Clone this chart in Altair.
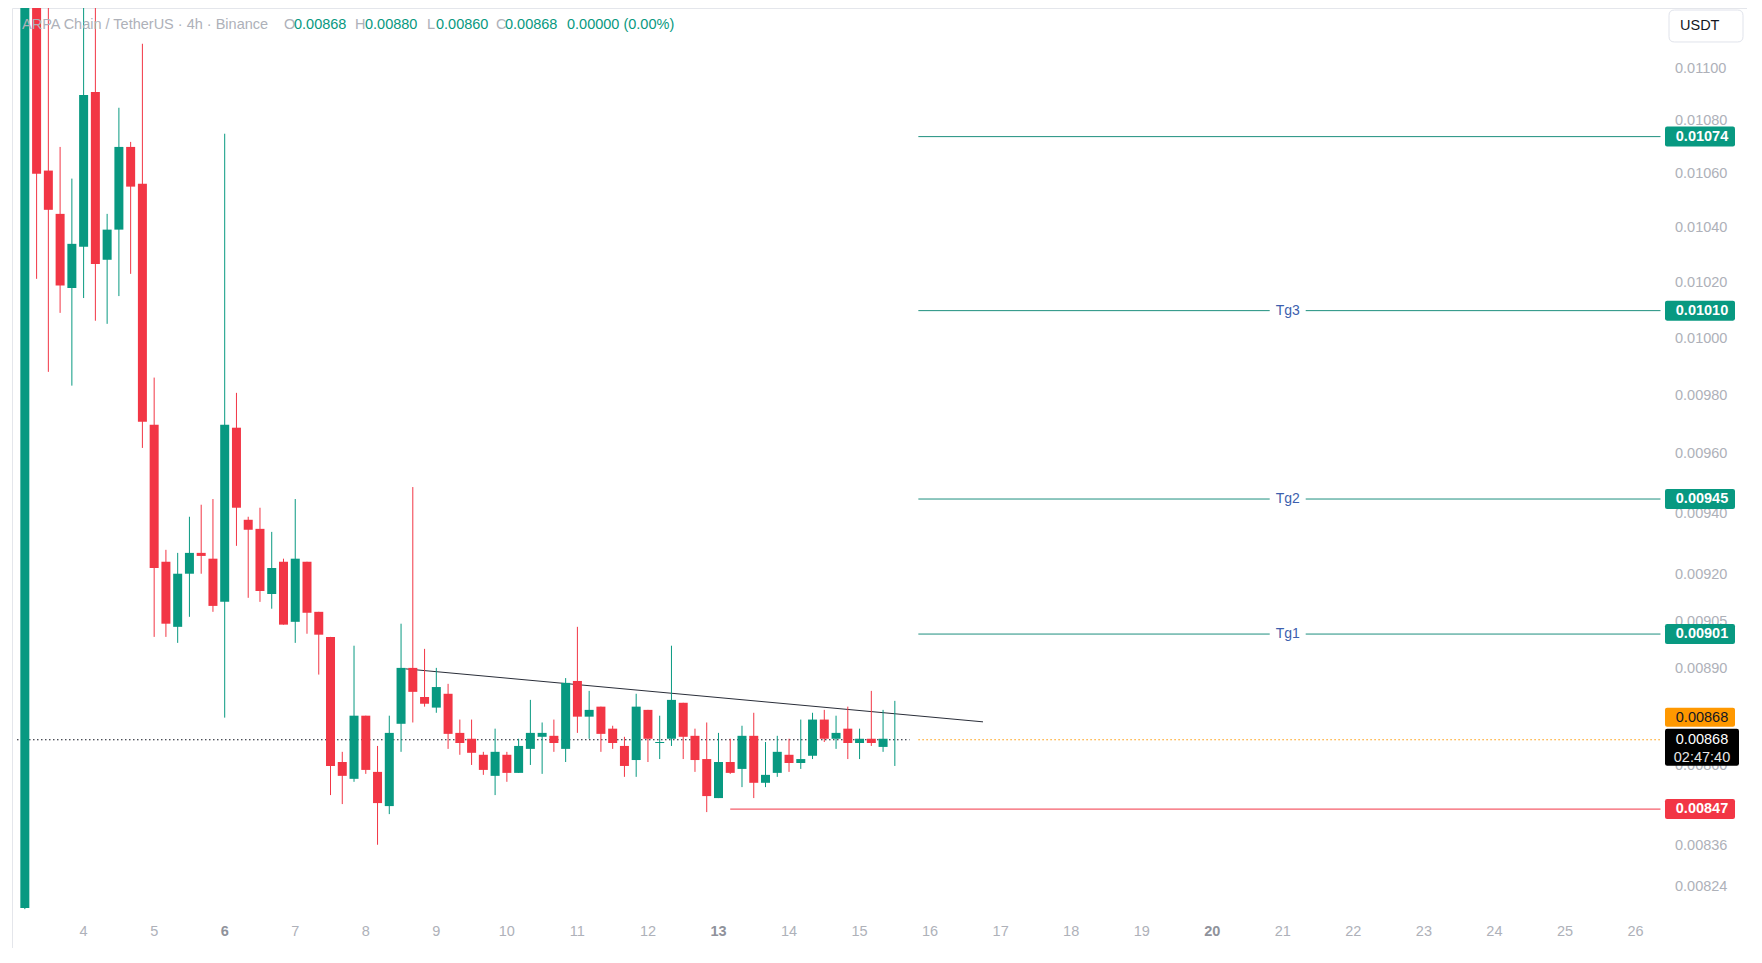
import altair as alt
import pandas as pd

FONT = "Liberation Sans"
GREEN = "#089981"
RED = "#f23645"
ORANGE = "#ff9800"
TEAL_LINE = "#1e8f7e"
BLUE_TXT = "#3d5fae"
GREY_TXT = "#aeb1b9"

# ---------------- candle data (4h candles) ----------------
first_candle = "2025-06-03 04:00"
opens = [0.008179, 0.01140, 0.010612, 0.010451, 0.010181, 0.010330, 0.010911, 0.010283, 0.010393, 0.010701,
         0.010563, 0.009701, 0.009243, 0.009033, 0.009204, 0.009272, 0.009253, 0.009113, 0.009691, 0.009381,
         0.009351, 0.009138, 0.009243, 0.009049, 0.009243, 0.009081, 0.009001, 0.008612, 0.008561, 0.008754,
         0.008582, 0.008479, 0.008729, 0.008903, 0.008812, 0.008779, 0.008822, 0.008701, 0.008683, 0.008634,
         0.008570, 0.008634, 0.008579, 0.008652, 0.008689, 0.008692, 0.008652, 0.008862, 0.008751, 0.008782,
         0.008714, 0.008661, 0.008618, 0.008772, 0.008670, 0.008683, 0.008794, 0.008692, 0.008621, 0.008503,
         0.008612, 0.008591, 0.008692, 0.008549, 0.008579, 0.008634, 0.008609, 0.008631, 0.008742, 0.008683,
         0.008714, 0.008670, 0.008683, 0.008658, 0.00868]
highs = [0.01150, 0.01160, 0.011271, 0.010701, 0.010582, 0.011271, 0.011271, 0.010451, 0.010850, 0.010720,
         0.011098, 0.009864, 0.009282, 0.009272, 0.009391, 0.009431, 0.009450, 0.010751, 0.009811, 0.009391,
         0.009421, 0.009341, 0.009253, 0.009450, 0.009243, 0.009081, 0.009001, 0.008643, 0.008973, 0.008754,
         0.008661, 0.008754, 0.009043, 0.009490, 0.008963, 0.008903, 0.008853, 0.008742, 0.008742, 0.008643,
         0.008714, 0.008643, 0.008683, 0.008803, 0.008733, 0.008742, 0.008871, 0.009033, 0.008831, 0.008782,
         0.008723, 0.008689, 0.008822, 0.008772, 0.008754, 0.008973, 0.008794, 0.008714, 0.008733, 0.008701,
         0.008683, 0.008723, 0.008763, 0.008673, 0.008692, 0.008683, 0.008742, 0.008763, 0.008772, 0.008754,
         0.008782, 0.008714, 0.008831, 0.008772, 0.00880]
lows = [0.008176, 0.010214, 0.009884, 0.010092, 0.009836, 0.010145, 0.010064, 0.010053, 0.010152, 0.010232,
        0.009622, 0.009001, 0.009001, 0.008982, 0.009065, 0.009204, 0.009081, 0.008748, 0.009295, 0.009126,
        0.009113, 0.009091, 0.009040, 0.008982, 0.009011, 0.008882, 0.008512, 0.008485, 0.008552, 0.008576,
        0.008364, 0.008455, 0.008643, 0.008733, 0.008782, 0.008763, 0.008652, 0.008634, 0.008603, 0.008573,
        0.008512, 0.008552, 0.008579, 0.008603, 0.008576, 0.008643, 0.008612, 0.008701, 0.008683, 0.008643,
        0.008652, 0.008567, 0.008567, 0.008612, 0.008621, 0.008661, 0.008621, 0.008582, 0.008461, 0.008503,
        0.008576, 0.008536, 0.008503, 0.008536, 0.008567, 0.008582, 0.008591, 0.008621, 0.008673, 0.008652,
        0.008621, 0.008621, 0.008661, 0.008643, 0.00860]
closes = [0.01140, 0.010600, 0.010466, 0.010190, 0.010341, 0.010899, 0.010268, 0.010393, 0.010701, 0.010552,
          0.009711, 0.009223, 0.009043, 0.009204, 0.009272, 0.009262, 0.009100, 0.009701, 0.009421, 0.009348,
          0.009148, 0.009223, 0.009040, 0.009253, 0.009078, 0.009008, 0.008600, 0.008570, 0.008754, 0.008588,
          0.008488, 0.008701, 0.008903, 0.008828, 0.008791, 0.008843, 0.008698, 0.008670, 0.008640, 0.008588,
          0.008643, 0.008579, 0.008661, 0.008701, 0.008701, 0.008670, 0.008856, 0.008751, 0.008772, 0.008698,
          0.008670, 0.008600, 0.008782, 0.008683, 0.008673, 0.008803, 0.008689, 0.008618, 0.008509, 0.008612,
          0.008579, 0.008692, 0.008549, 0.008573, 0.008643, 0.008609, 0.008621, 0.008742, 0.008683, 0.008701,
          0.008670, 0.008683, 0.008670, 0.008683, 0.00868]

# ---------------- annotations ----------------
level_prices = [0.01074, 0.01010, 0.00945, 0.00901]
level_names = ["", "Tg3", "Tg2", "Tg1"]
level_start = "2025-06-15 20:00"
line_end = "2025-06-26 08:30"
label_time = "2025-06-21 01:40"
support_price = 0.00847
support_start = "2025-06-13 04:00"
last_price = 0.00868
last_line_end = "2025-06-15 17:00"
trend_times = ["2025-06-08 13:30", "2025-06-16 18:00"]
trend_prices = [0.008900, 0.008735]
countdown = "02:47:40"

day_ticks = list(range(4, 27))
bold_days = [6, 13, 20]
price_ticks = [0.01100, 0.01080, 0.01060, 0.01040, 0.01020, 0.01000, 0.00980, 0.00960, 0.00940,
               0.00920, 0.00905, 0.00890, 0.00860, 0.00836, 0.00824]
y_domain = [0.0080646, 0.011239]

title_texts = ["ARPA Chain / TetherUS · 4h · Binance", "O", "0.00868", "H", "0.00880",
               "L", "0.00860", "C", "0.00868", "0.00000 (0.00%)"]
title_colors = ["#aeb1b9", "#aeb1b9", GREEN, "#aeb1b9", GREEN, "#aeb1b9", GREEN, "#aeb1b9", GREEN, GREEN]
title_x = [10, 272, 282, 343, 353, 415, 424, 484, 493, 555]


def rounded_box(top, bottom, r):
    """SVG path (unit symbol space, x from -1 to 1) for a box with rounded corners."""
    return (f"M{-1 + r},{top}H{1 - r}Q1,{top} 1,{top + r}V{bottom - r}Q1,{bottom} {1 - r},{bottom}"
            f"H{-1 + r}Q-1,{bottom} -1,{bottom - r}V{top + r}Q-1,{top} {-1 + r},{top}Z")


# ---------------- frames ----------------
candles = pd.DataFrame({
    "t": pd.date_range(first_candle, periods=len(opens), freq="4h"),
    "open": opens, "high": highs, "low": lows, "close": closes,
})
levels = pd.DataFrame({
    "price": level_prices, "name": level_names,
    "start": pd.to_datetime([level_start] * 4), "end": pd.to_datetime([line_end] * 4),
    "lt": pd.to_datetime([label_time] * 4),
})
tg_labels = levels[levels["name"] != ""]
support = pd.DataFrame({"price": [support_price], "start": pd.to_datetime([support_start]),
                        "end": pd.to_datetime([line_end])})
lastline = pd.DataFrame({"price": [last_price], "start": pd.to_datetime(["2025-06-03 01:20"]),
                         "end": pd.to_datetime([last_line_end])})
orangeline = pd.DataFrame({"price": [last_price], "start": pd.to_datetime([level_start]),
                           "end": pd.to_datetime([line_end])})
trend = pd.DataFrame({"t": pd.to_datetime(trend_times), "price": trend_prices})
tags = pd.DataFrame({
    "price": level_prices + [support_price],
    "label": [f"{p:.5f}" for p in level_prices + [support_price]],
    "fill": [GREEN] * 4 + [RED],
})
last_df = pd.DataFrame({"price": [last_price], "label": [f"{last_price:.5f}"], "cd": [countdown]})
title_df = pd.DataFrame({"text": title_texts, "color": title_colors, "px": title_x})
ylab_df = pd.DataFrame({"price": price_ticks, "label": [f"{p:.5f}" for p in price_ticks]})
xlab_df = pd.DataFrame({
    "t": pd.to_datetime([f"2025-06-{d:02d}" for d in day_ticks]),
    "label": [str(d) for d in day_ticks],
    "bold": [d in bold_days for d in day_ticks],
})
one = pd.DataFrame({"a": [0]})

# ---------------- scales ----------------
xscale = alt.Scale(domain=[alt.DateTime(year=2025, month=6, date=3, hours=1, minutes=20),
                           alt.DateTime(year=2025, month=6, date=27, hours=12, minutes=14)])
yscale = alt.Scale(type="log", domain=y_domain, nice=False)

X = lambda f: alt.X(f, scale=xscale, axis=None)
Y = lambda f: alt.Y(f, scale=yscale, axis=None)

# axis labels (price scale on the right, time scale at the bottom)
ylabels = alt.Chart(ylab_df).mark_text(
    font=FONT, fontSize=14.5, color=GREY_TXT, align="left", baseline="middle"
).encode(x=alt.value(1663), y=Y("price:Q"), text="label:N")
xlabels_n = alt.Chart(xlab_df).transform_filter("!datum.bold").mark_text(
    font=FONT, fontSize=14.5, color=GREY_TXT, align="center", baseline="middle"
).encode(x=X("t:T"), y=alt.value(924), text="label:N")
xlabels_b = alt.Chart(xlab_df).transform_filter("datum.bold").mark_text(
    font=FONT, fontSize=14.5, fontWeight="bold", color="#8f929b", align="center", baseline="middle"
).encode(x=X("t:T"), y=alt.value(924), text="label:N")

up = "datum.open <= datum.close"
base = alt.Chart(candles).encode(
    x=X("t:T"),
    color=alt.condition(up, alt.value(GREEN), alt.value(RED)),
)
wicks = base.mark_rule(strokeWidth=1, clip=True).encode(y=Y("low:Q"), y2="high:Q")
bodies = base.mark_bar(size=9, clip=True).encode(y=Y("open:Q"), y2="close:Q")


def hline(df, color, dash=None, width=1.0):
    kw = dict(color=color, strokeWidth=width)
    if dash:
        kw["strokeDash"] = dash
    return alt.Chart(df).mark_rule(**kw).encode(x=X("start:T"), x2="end:T", y=Y("price:Q"))


level_lines = hline(levels, TEAL_LINE)
support_line = hline(support, RED)
last_line = hline(lastline, "#131722", dash=[1.5, 2.5], width=1.2)
orange_line = hline(orangeline, ORANGE, dash=[1.5, 2.5], width=1.2)

trend_line = alt.Chart(trend).mark_line(color="#2a2e39", strokeWidth=1).encode(
    x=X("t:T"), y=Y("price:Q"))

tg_back = alt.Chart(tg_labels).mark_point(
    shape="M-1,-0.5H1V0.5H-1Z", size=1296, filled=True, opacity=1, color="white", strokeWidth=0
).encode(x=X("lt:T"), y=Y("price:Q"))
tg_text = alt.Chart(tg_labels).mark_text(
    font=FONT, fontSize=14, color=BLUE_TXT, baseline="middle", align="center"
).encode(x=X("lt:T"), y=Y("price:Q"), text="name:N")

TAG_X = 1688
tag_boxes = alt.Chart(tags).mark_point(
    shape=rounded_box(-0.2857, 0.2857, 0.06), size=4900, filled=True, opacity=1, strokeWidth=0
).encode(x=alt.value(TAG_X), y=Y("price:Q"), color=alt.Color("fill:N", scale=None))
tag_text = alt.Chart(tags).mark_text(
    font=FONT, fontSize=14.5, fontWeight="bold", color="white", baseline="middle", align="center"
).encode(x=alt.value(TAG_X + 2), y=Y("price:Q"), text="label:N")

orange_box = alt.Chart(last_df).mark_point(
    shape=rounded_box(-0.914, -0.371, 0.06), size=4900, filled=True, opacity=1, strokeWidth=0,
    color=ORANGE
).encode(x=alt.value(TAG_X), y=Y("price:Q"))
orange_text = alt.Chart(last_df).mark_text(
    font=FONT, fontSize=14.5, color="#131722", baseline="middle", align="center", dy=-22
).encode(x=alt.value(TAG_X + 2), y=Y("price:Q"), text="label:N")

black_box = alt.Chart(last_df).mark_point(
    shape=rounded_box(-0.297, 0.703, 0.06), size=5476, filled=True, opacity=1, strokeWidth=0,
    color="#000000"
).encode(x=alt.value(TAG_X + 2), y=Y("price:Q"))
black_text = alt.Chart(last_df).mark_text(
    font=FONT, fontSize=14.5, color="white", baseline="middle", align="center"
).encode(x=alt.value(TAG_X + 2), y=Y("price:Q"), text="label:N")
black_cd = alt.Chart(last_df).mark_text(
    font=FONT, fontSize=14.5, color="#e6e6e6", baseline="middle", align="center", dy=18
).encode(x=alt.value(TAG_X + 2), y=Y("price:Q"), text="cd:N")

usdt_box = alt.Chart(one).mark_point(
    shape=rounded_box(-0.432, 0.432, 0.15), size=5476, filled=False, opacity=1, stroke="#e0e3eb",
    strokeWidth=1, fill="white"
).encode(x=alt.value(1694), y=alt.value(18))
usdt_text = alt.Chart(one).mark_text(
    text="USDT", font=FONT, fontSize=14.5, color="#131722", align="left", baseline="middle"
).encode(x=alt.value(1668), y=alt.value(18))

title_layer = alt.Chart(title_df).mark_text(
    font=FONT, fontSize=14.5, align="left", baseline="middle"
).encode(x=alt.X("px:Q", scale=None, axis=None), y=alt.value(17), text="text:N",
         color=alt.Color("color:N", scale=None))

chart = alt.layer(
    ylabels, xlabels_n, xlabels_b,
    last_line, orange_line, level_lines, support_line, trend_line,
    wicks, bodies,
    tg_back, tg_text,
    tag_boxes, tag_text, orange_box, orange_text, black_box, black_text, black_cd,
    usdt_box, usdt_text, title_layer,
).properties(
    width=1735, height=940,
    autosize=alt.AutoSizeParams(type="none"),
    padding={"left": 4, "top": 0, "right": 0, "bottom": 0},
    background="white",
).configure_view(stroke="#e4e6eb", strokeWidth=1)

chart.save("out.html", embed_options={"renderer": "svg", "actions": False})
